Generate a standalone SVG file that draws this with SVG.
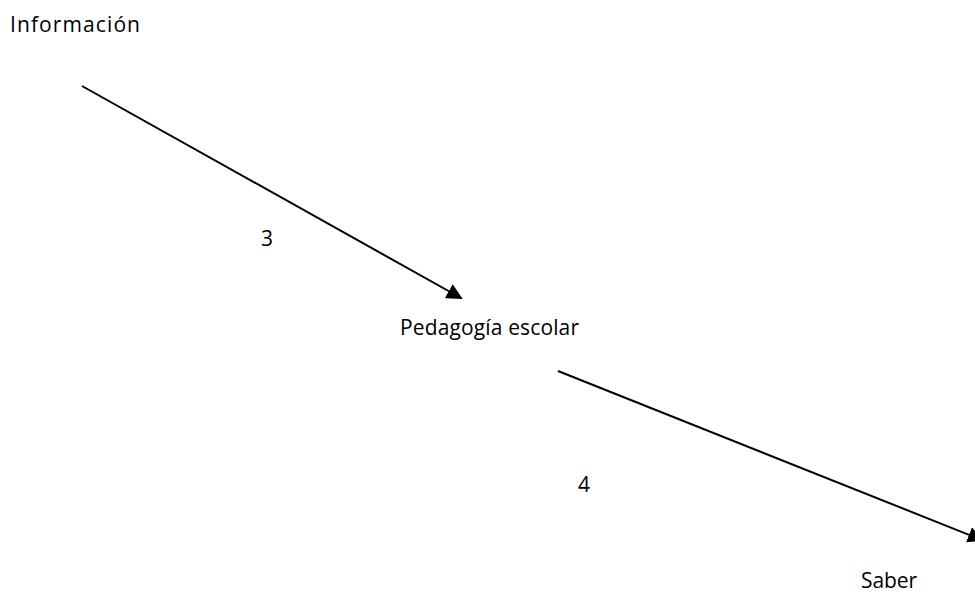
<svg xmlns="http://www.w3.org/2000/svg" width="975" height="594" viewBox="0 0 975 594">
<style>
text{font-family:"Open Sans","Liberation Sans",sans-serif;font-size:21px;fill:#000}
.c{stroke:#000;stroke-width:2;fill:none}
</style>
<defs>
<marker id="a" markerWidth="8" markerHeight="8" refX="7" refY="4" orient="auto" markerUnits="strokeWidth">
<path d="M0,0 L8,4 L0,8 Z" fill="#000"/>
</marker>
</defs>
<rect width="975" height="594" fill="#fff"/>
<g id="connectors">
<line class="c" x1="82" y1="86" x2="461" y2="298" marker-end="url(#a)"/>
<line class="c" x1="558" y1="371" x2="982" y2="540" marker-end="url(#a)"/>
</g>
<g id="n1"><text x="10" y="32" textLength="130" lengthAdjust="spacing">Información</text></g>
<g id="n2"><text x="400" y="335" textLength="179" lengthAdjust="spacing">Pedagogía escolar</text></g>
<g id="n3"><text x="861" y="588" textLength="56" lengthAdjust="spacing">Saber</text></g>
<g id="l3"><text x="261" y="246">3</text></g>
<g id="l4"><text x="578" y="492">4</text></g>
</svg>
